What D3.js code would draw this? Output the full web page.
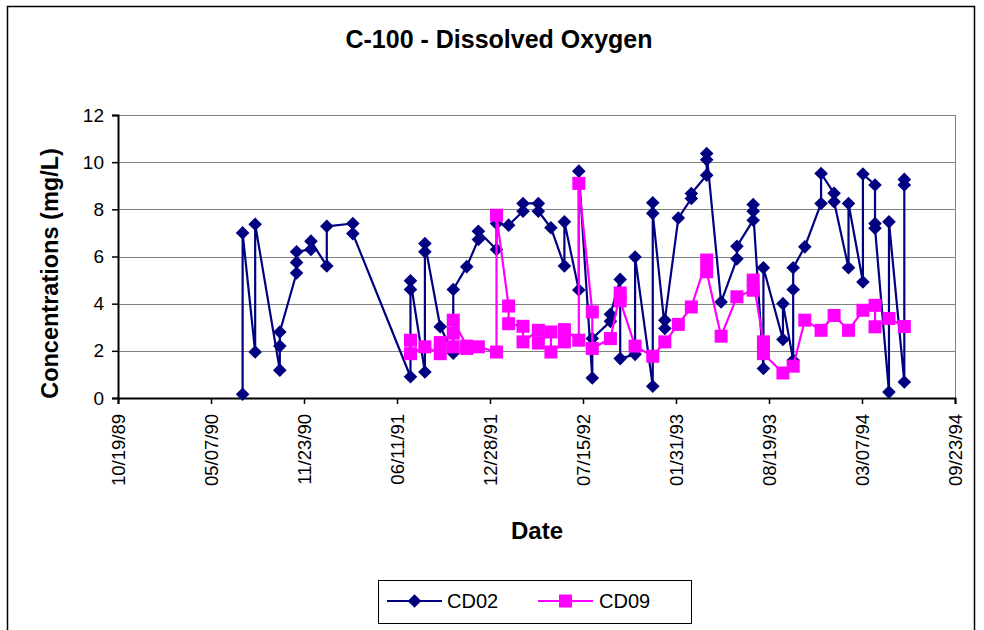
<!DOCTYPE html>
<html>
<head>
<meta charset="utf-8">
<script src="https://cdn.jsdelivr.net/npm/d3@7"></script>
<style>
  html, body { margin: 0; padding: 0; background: #fff; }
  svg { display: block; }
  text { font-family: "Liberation Sans", Arial, sans-serif; fill: #000; }
</style>
</head>
<body>
<svg id="chart" width="984" height="630"></svg>
<script>
// ---------- data ----------
const chartTitle = "C-100 - Dissolved Oxygen";
const xTitle = "Date";
const yTitle = "Concentrations (mg/L)";
const seriesNames = ["CD02", "CD09"];
const seriesColors = ["#000080", "#FF00FF"];

const xTickLabels = ["10/19/89","05/07/90","11/23/90","06/11/91","12/28/91","07/15/92","01/31/93","08/19/93","03/07/94","09/23/94"];
const yTickValues = [0, 2, 4, 6, 8, 10, 12];

const cd02Dates = [
  "1990-07-14","1990-07-14","1990-08-10","1990-08-10","1990-10-02","1990-10-02","1990-10-02",
  "1990-11-07","1990-11-07","1990-11-07","1990-12-08","1990-12-08","1991-01-11","1991-01-11",
  "1991-03-08","1991-03-08","1991-07-10","1991-07-10","1991-07-10","1991-08-10","1991-08-10",
  "1991-08-10","1991-09-12","1991-10-10","1991-10-10","1991-11-08","1991-12-03","1991-12-03",
  "1992-01-11","1992-01-11","1992-02-06","1992-03-08","1992-03-08","1992-04-10","1992-04-10",
  "1992-05-07","1992-06-05","1992-06-05","1992-07-06","1992-07-06","1992-08-04","1992-08-04",
  "1992-09-12","1992-09-12","1992-10-03","1992-10-03","1992-11-04","1992-11-04","1992-12-12",
  "1992-12-12","1992-12-12","1993-01-07","1993-01-07","1993-02-05","1993-03-05","1993-03-05",
  "1993-04-07","1993-04-07","1993-04-07","1993-05-08","1993-06-11","1993-06-11","1993-07-16",
  "1993-07-16","1993-07-16","1993-08-07","1993-08-07","1993-09-18","1993-09-18","1993-10-10",
  "1993-10-10","1993-10-10","1993-11-04","1993-12-09","1993-12-09","1994-01-06","1994-01-06",
  "1994-02-06","1994-02-06","1994-03-09","1994-03-09","1994-04-04","1994-04-04","1994-04-04",
  "1994-05-04","1994-05-04","1994-06-06","1994-06-06","1994-06-06"
];
const cd02Values = [
  0.16, 7.0, 1.95, 7.37, 1.18, 2.2, 2.8,
  5.3, 5.75, 6.2, 6.3, 6.65, 5.6, 7.28,
  7.4, 6.97, 0.9, 4.6, 4.97, 1.1, 6.2,
  6.55, 3.02, 1.9, 4.6, 5.57, 6.72, 7.07,
  6.3, 7.4, 7.33, 7.92, 8.25, 8.25, 7.92,
  7.22, 5.6, 7.47, 4.58, 9.62, 0.85, 2.52,
  3.25, 3.55, 5.03, 1.67, 1.85, 5.98, 0.5,
  8.28, 7.83, 2.95, 3.3, 7.63, 8.46, 8.67,
  9.45, 10.1, 10.37, 4.07, 5.9, 6.43, 7.54,
  8.2, 7.92, 1.25, 5.52, 2.48, 4.0, 1.6,
  4.6, 5.52, 6.41, 8.25, 9.52, 8.68, 8.32,
  5.52, 8.25, 4.92, 9.5, 9.03, 7.4, 7.2,
  0.25, 7.47, 0.68, 9.03, 9.27
];

const cd09Dates = [
  "1991-07-10","1991-07-10","1991-08-10","1991-09-12","1991-09-12","1991-10-10","1991-10-10",
  "1991-10-10","1991-11-08","1991-11-08","1991-12-03","1992-01-11","1992-01-11","1992-02-06",
  "1992-02-06","1992-03-08","1992-03-08","1992-04-10","1992-04-10","1992-05-07","1992-05-07",
  "1992-06-05","1992-06-05","1992-07-06","1992-07-06","1992-08-04","1992-08-04","1992-09-12",
  "1992-10-03","1992-10-03","1992-11-04","1992-12-12","1993-01-07","1993-02-05","1993-03-05",
  "1993-04-07","1993-04-07","1993-05-08","1993-06-11","1993-07-16","1993-07-16","1993-08-07",
  "1993-08-07","1993-09-18","1993-10-10","1993-11-04","1993-12-09","1994-01-06","1994-02-06",
  "1994-03-09","1994-04-04","1994-04-04","1994-05-04","1994-06-06"
];
const cd09Values = [
  2.45, 1.88, 2.17, 1.88, 2.35, 2.17, 2.75,
  3.3, 2.2, 2.1, 2.17, 1.95, 7.75, 3.9,
  3.15, 3.04, 2.38, 2.87, 2.33, 2.8, 1.95,
  2.38, 2.9, 2.45, 9.1, 3.65, 2.1, 2.52,
  4.45, 4.12, 2.2, 1.77, 2.38, 3.12, 3.86,
  5.85, 5.35, 2.62, 4.29, 4.57, 5.0, 2.38,
  1.88, 1.06, 1.35, 3.3, 2.87, 3.5, 2.87,
  3.72, 3.93, 3.02, 3.37, 3.03
];

// ---------- layout ----------
const W = 984, H = 630;
const plot = { left: 118, right: 955, top: 115, bottom: 398 };
const fontStack = '"Liberation Sans", Arial, sans-serif';

const svg = d3.select("#chart");
svg.append("rect").attr("x", 0).attr("y", 0).attr("width", W).attr("height", H).attr("fill", "#fff");
// outer chart border
svg.append("rect").attr("x", 7.5).attr("y", 6.5).attr("width", 967).attr("height", 640)
  .attr("fill", "none").attr("stroke", "#000").attr("stroke-width", 1.5);

const parseTick = d3.utcParse("%m/%d/%y");
const parseDate = d3.utcParse("%Y-%m-%d");
const tickDates = xTickLabels.map(parseTick);

const x = d3.scaleUtc()
  .domain([tickDates[0], tickDates[tickDates.length - 1]])
  .range([plot.left, plot.right]);
const y = d3.scaleLinear().domain([0, 12]).range([plot.bottom, plot.top]);

// gridlines
svg.append("g").selectAll("line").data(yTickValues.filter(v => v > 0)).join("line")
  .attr("x1", plot.left).attr("x2", plot.right)
  .attr("y1", d => Math.round(y(d)) + 0.5).attr("y2", d => Math.round(y(d)) + 0.5)
  .attr("stroke", "#808080").attr("stroke-width", 1);
// right border of plot
svg.append("line").attr("x1", plot.right + 0.5).attr("x2", plot.right + 0.5)
  .attr("y1", y(12)).attr("y2", plot.bottom)
  .attr("stroke", "#808080").attr("stroke-width", 1);

// y axis
const yAxis = svg.append("g").attr("transform", `translate(${plot.left},0)`)
  .call(d3.axisLeft(y).tickValues(yTickValues).tickSize(6).tickPadding(8).tickFormat(d3.format("d")));
yAxis.select(".domain").attr("stroke", "#000").attr("stroke-width", 2);
yAxis.selectAll(".tick line").attr("stroke", "#000").attr("stroke-width", 1.5);
yAxis.selectAll(".tick text").attr("font-family", fontStack).attr("font-size", 19).attr("fill", "#000");

// x axis
const xAxis = svg.append("g").attr("transform", `translate(0,${plot.bottom})`)
  .call(d3.axisBottom(x).tickValues(tickDates).tickSize(6)
    .tickFormat((d, i) => xTickLabels[i]));
xAxis.select(".domain").attr("stroke", "#000").attr("stroke-width", 2);
xAxis.selectAll(".tick line").attr("stroke", "#000").attr("stroke-width", 1.5);
xAxis.selectAll(".tick text")
  .attr("font-family", fontStack).attr("font-size", 18.5).attr("fill", "#000")
  .attr("text-anchor", "end").attr("dy", "0.35em")
  .attr("transform", "translate(0,16) rotate(-90)")
  .attr("x", 0).attr("y", 0);

// titles
svg.append("text").attr("x", 499).attr("y", 48).attr("text-anchor", "middle")
  .attr("font-size", 25).attr("font-weight", "bold").text(chartTitle);
svg.append("text").attr("x", 537).attr("y", 539).attr("text-anchor", "middle")
  .attr("font-size", 24).attr("font-weight", "bold").text(xTitle);
svg.append("text").attr("transform", `translate(58,${(plot.top + plot.bottom) / 2 + 17}) rotate(-90)`)
  .attr("text-anchor", "middle").attr("font-size", 23.5).attr("font-weight", "bold").text(yTitle);

// series
const cd02 = cd02Dates.map((d, i) => ({ date: parseDate(d), value: cd02Values[i] }));
const cd09 = cd09Dates.map((d, i) => ({ date: parseDate(d), value: cd09Values[i] }));

const line = d3.line().x(d => x(d.date)).y(d => y(d.value));
const diamond = r => `M0,${-r}L${r},0L0,${r}L${-r},0Z`;
const R = 6.8, S = 13;

function drawSeries(data, color, shape) {
  const g = svg.append("g");
  g.append("path").datum(data).attr("d", line)
    .attr("fill", "none").attr("stroke", color).attr("stroke-width", 2.2).attr("stroke-linejoin", "round");
  if (shape === "diamond") {
    g.selectAll("path.m").data(data).join("path").attr("class", "m")
      .attr("transform", d => `translate(${x(d.date)},${y(d.value)})`)
      .attr("d", diamond(R)).attr("fill", color);
  } else {
    g.selectAll("rect.m").data(data).join("rect").attr("class", "m")
      .attr("x", d => x(d.date) - S / 2).attr("y", d => y(d.value) - S / 2)
      .attr("width", S).attr("height", S).attr("fill", color);
  }
}
drawSeries(cd02, seriesColors[0], "diamond");
drawSeries(cd09, seriesColors[1], "square");

// legend
const lg = svg.append("g");
lg.append("rect").attr("x", 378.5).attr("y", 580.5).attr("width", 313).attr("height", 43)
  .attr("fill", "#fff").attr("stroke", "#000").attr("stroke-width", 1);
const legendItems = [
  { name: seriesNames[0], color: seriesColors[0], shape: "diamond", x0: 387, x1: 442, tx: 447 },
  { name: seriesNames[1], color: seriesColors[1], shape: "square", x0: 538, x1: 593, tx: 599 }
];
legendItems.forEach(it => {
  const ly = 601;
  lg.append("line").attr("x1", it.x0).attr("x2", it.x1).attr("y1", ly).attr("y2", ly)
    .attr("stroke", it.color).attr("stroke-width", 2.2);
  const cx = (it.x0 + it.x1) / 2;
  if (it.shape === "diamond") {
    lg.append("path").attr("transform", `translate(${cx},${ly})`).attr("d", diamond(R)).attr("fill", it.color);
  } else {
    lg.append("rect").attr("x", cx - S / 2).attr("y", ly - S / 2).attr("width", S).attr("height", S).attr("fill", it.color);
  }
  lg.append("text").attr("x", it.tx).attr("y", ly + 7).attr("font-size", 20).text(it.name);
});
</script>
</body>
</html>
